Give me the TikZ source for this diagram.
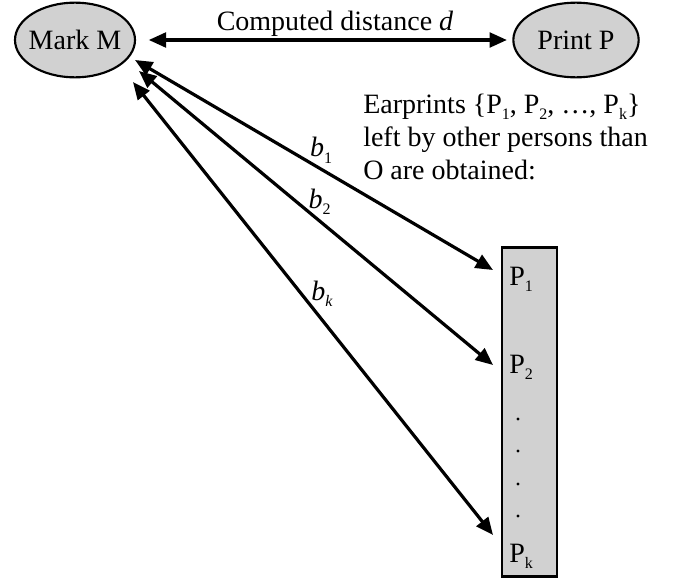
\documentclass[tikz,border=0pt]{standalone}
\usepackage{fontspec}
\setmainfont{Liberation Serif}
\usepackage{tikz}
\usetikzlibrary{arrows.meta,positioning,shapes.geometric}
\usepackage{xcolor}
\definecolor{printgray}{gray}{0.82}
\newcommand{\idx}[1]{\raisebox{-0.22em}{\fontsize{12pt}{12pt}\selectfont #1}}

\begin{document}
\begin{tikzpicture}[x=0.75pt,y=-0.75pt,
    font=\fontsize{21pt}{24.75pt}\selectfont,
    oval/.style={ellipse,draw,line width=1.6pt,fill=printgray,inner xsep=-5pt,
                 minimum height=56pt},
    listbox/.style={rectangle,draw,line width=1.8pt,fill=printgray,
                    minimum width=41pt,minimum height=247pt},
    arr/.style={{Triangle[length=13pt,width=11pt]}-{Triangle[length=13pt,width=11pt]},
                line width=2.4pt},
  ]
    \useasboundingbox (0,0) rectangle (673,578);
    \node[oval,minimum width=90pt] (mark) at (75,40) {Mark M};
    \node[oval,minimum width=94pt] (print) at (576,40) {Print P};
    \draw[arr,shorten <=9.5pt,shorten >=4pt] (mark.east) -- (print.west);
    \node[anchor=base] (dist) at (335,30) {Computed distance \textit{d}};
    % earprints from other persons
    \node[anchor=north west,align=left,inner sep=0pt] (ear) at (363,94)
      {Earprints \{P\idx{1}, P\idx{2}, \dots, P\idx{k}\}\\
       left by other persons than\\
       O are obtained:};
    \node[listbox] (list) at (529.5,412) {};
    \node[anchor=base west,inner sep=0pt] (p1) at (509,285) {P\idx{1}};
    \node[anchor=base west,inner sep=0pt] (p2) at (509,373) {P\idx{2}};
    \node[anchor=base west,inner sep=0pt] (pk) at (509,562) {P\idx{k}};
    \foreach \y in {419,451,484,516}
      \fill (518,\y) circle (1.6);
    \coordinate (m1) at (135,60);
    \coordinate (m2) at (139,71);
    \coordinate (m3) at (133,82);
    \coordinate (e1) at (493,270);
    \coordinate (e2) at (493,365);
    \coordinate (ek) at (493,535);
    \draw[arr] (m1) -- node[pos=0.52,above] (b1) {\textit{b}\idx{1}} (e1);
    \draw[arr] (m2) -- node[pos=0.51,above] (b2) {\textit{b}\idx{2}} (e2);
    \draw[arr] (m3) -- node[pos=0.51,above,xshift=4pt] (bk) {\textit{b}\idx{\textit{k}}} (ek);
  \end{tikzpicture}
\end{document}
